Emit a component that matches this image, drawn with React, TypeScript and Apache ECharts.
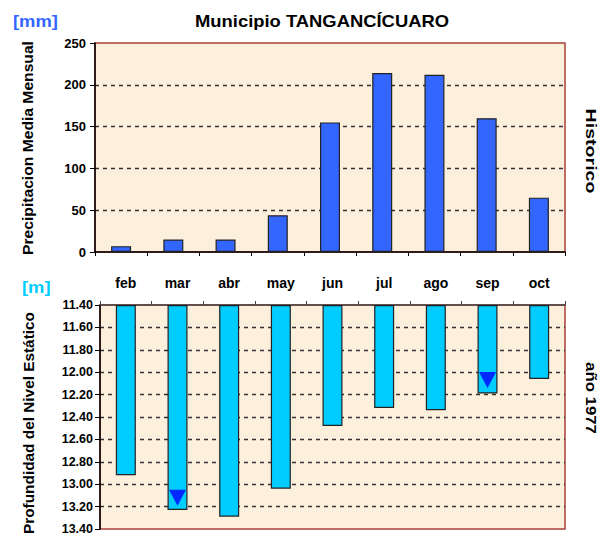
import React, { useEffect, useRef } from "react";
import * as echarts from "echarts";

const months = ["feb", "mar", "abr", "may", "jun", "jul", "ago", "sep", "oct"];
const precipitation = [7, 15, 15, 44, 155, 214, 212, 160, 65];
const depth = [12.92, 13.23, 13.29, 13.04, 12.48, 12.32, 12.34, 12.19, 12.06];
const depthMarkers = [null, 13.12, null, null, null, null, null, 12.07, null];
const precipTicks = { min: 0, max: 250, interval: 50 };
const depthTicks = { min: 11.4, max: 13.4, interval: 0.2 };

const FONT = 'Arial, "Liberation Sans", sans-serif';

export default function App() {
  const ref = useRef<HTMLDivElement>(null);
  useEffect(() => {
    if (!ref.current) return;
    const chart = echarts.init(ref.current, undefined, { renderer: "svg" });
    const bg = "#fcf0dc";
    const border = "#a8403c";
    const axisLabel = { color: "#000", fontWeight: "bold" as const, fontSize: 12.5, fontFamily: FONT };
    const splitLine = {
      show: true,
      showMinLine: false,
      showMaxLine: false,
      lineStyle: { color: "#333", type: [4, 4] as any, width: 1.3 },
    };
    chart.setOption({
      animation: false,
      backgroundColor: "#fff",
      grid: [
        { left: 95, right: 38, top: 43, height: 209, show: true, backgroundColor: bg, borderColor: border, borderWidth: 1.5 },
        { left: 100, right: 38, top: 305, height: 224, show: true, backgroundColor: bg, borderColor: border, borderWidth: 1.5 },
      ],
      xAxis: [
        {
          type: "category",
          gridIndex: 0,
          data: months,
          axisLine: { lineStyle: { color: "#000", width: 1.5 } },
          axisTick: { show: true, length: 4, lineStyle: { color: "#000" } },
          axisLabel: { show: false },
        },
        {
          type: "category",
          gridIndex: 1,
          position: "top",
          data: months,
          axisLine: { lineStyle: { color: "#444", width: 1.5 } },
          axisTick: { show: true, length: 4, lineStyle: { color: "#444" } },
          axisLabel: { ...axisLabel, fontSize: 14, margin: 15 },
        },
      ],
      yAxis: [
        {
          type: "value",
          gridIndex: 0,
          min: precipTicks.min,
          max: precipTicks.max,
          interval: precipTicks.interval,
          axisLine: { show: true, lineStyle: { color: "#000", width: 1.5 } },
          axisTick: { show: true, length: 5, lineStyle: { color: "#000" } },
          axisLabel: { ...axisLabel, fontSize: 13, margin: 9 },
          splitLine,
        },
        {
          type: "value",
          gridIndex: 1,
          inverse: true,
          min: depthTicks.min,
          max: depthTicks.max,
          interval: depthTicks.interval,
          startValue: depthTicks.min,
          axisLine: { show: true, lineStyle: { color: "#000", width: 1.5 } },
          axisTick: { show: true, length: 5, lineStyle: { color: "#000" } },
          axisLabel: { ...axisLabel, margin: 7, formatter: (v: number) => v.toFixed(2) },
          splitLine,
        },
      ],
      series: [
        {
          type: "bar",
          xAxisIndex: 0,
          yAxisIndex: 0,
          data: precipitation,
          barWidth: 20,
          itemStyle: { color: "#3366ff", borderColor: "#222", borderWidth: 1.2 },
          z: 3,
        },
        {
          type: "bar",
          xAxisIndex: 1,
          yAxisIndex: 1,
          data: depth,
          barWidth: 20,
          itemStyle: { color: "#00ccff", borderColor: "#222", borderWidth: 1.2 },
          z: 3,
        },
        {
          type: "scatter",
          xAxisIndex: 1,
          yAxisIndex: 1,
          data: depthMarkers,
          symbol: "triangle",
          symbolRotate: 180,
          symbolSize: [17, 16],
          itemStyle: { color: "#0000ff" },
          z: 5,
        },
      ],
      graphic: [
        {
          type: "text",
          x: 195,
          y: 13,
          scaleX: 1.15,
          style: { text: "Municipio TANGANCÍCUARO", font: `bold 16px ${FONT}`, fill: "#000" },
        },
        {
          type: "text",
          x: 13,
          y: 13,
          scaleX: 1.15,
          style: { text: "[mm]", font: `bold 16px ${FONT}`, fill: "#3366ff" },
        },
        {
          type: "text",
          x: 22,
          y: 279,
          scaleX: 1.15,
          style: { text: "[m]", font: `bold 16px ${FONT}`, fill: "#00ccff" },
        },
        {
          type: "text",
          x: 28,
          y: 148,
          rotation: Math.PI / 2,
          scaleX: 1.08,
          style: {
            text: "Precipitacion Media Mensual",
            font: `bold 14.5px ${FONT}`,
            fill: "#000",
            align: "center",
            verticalAlign: "middle",
          },
        },
        {
          type: "text",
          x: 29,
          y: 423,
          rotation: Math.PI / 2,
          scaleX: 1.06,
          style: {
            text: "Profundidad del Nivel Estático",
            font: `bold 14.5px ${FONT}`,
            fill: "#000",
            align: "center",
            verticalAlign: "middle",
          },
        },
        {
          type: "text",
          x: 591,
          y: 151,
          rotation: -Math.PI / 2,
          scaleX: 1.4,
          style: {
            text: "Historico",
            font: `bold 14px ${FONT}`,
            fill: "#000",
            align: "center",
            verticalAlign: "middle",
          },
        },
        {
          type: "text",
          x: 591,
          y: 398,
          rotation: -Math.PI / 2,
          scaleX: 1.2,
          style: {
            text: "año 1977",
            font: `bold 14px ${FONT}`,
            fill: "#000",
            align: "center",
            verticalAlign: "middle",
          },
        },
      ],
    });
    return () => chart.dispose();
  }, []);
  return <div ref={ref} style={{ width: 603, height: 539, position: "absolute", left: 0, top: 0 }} />;
}
